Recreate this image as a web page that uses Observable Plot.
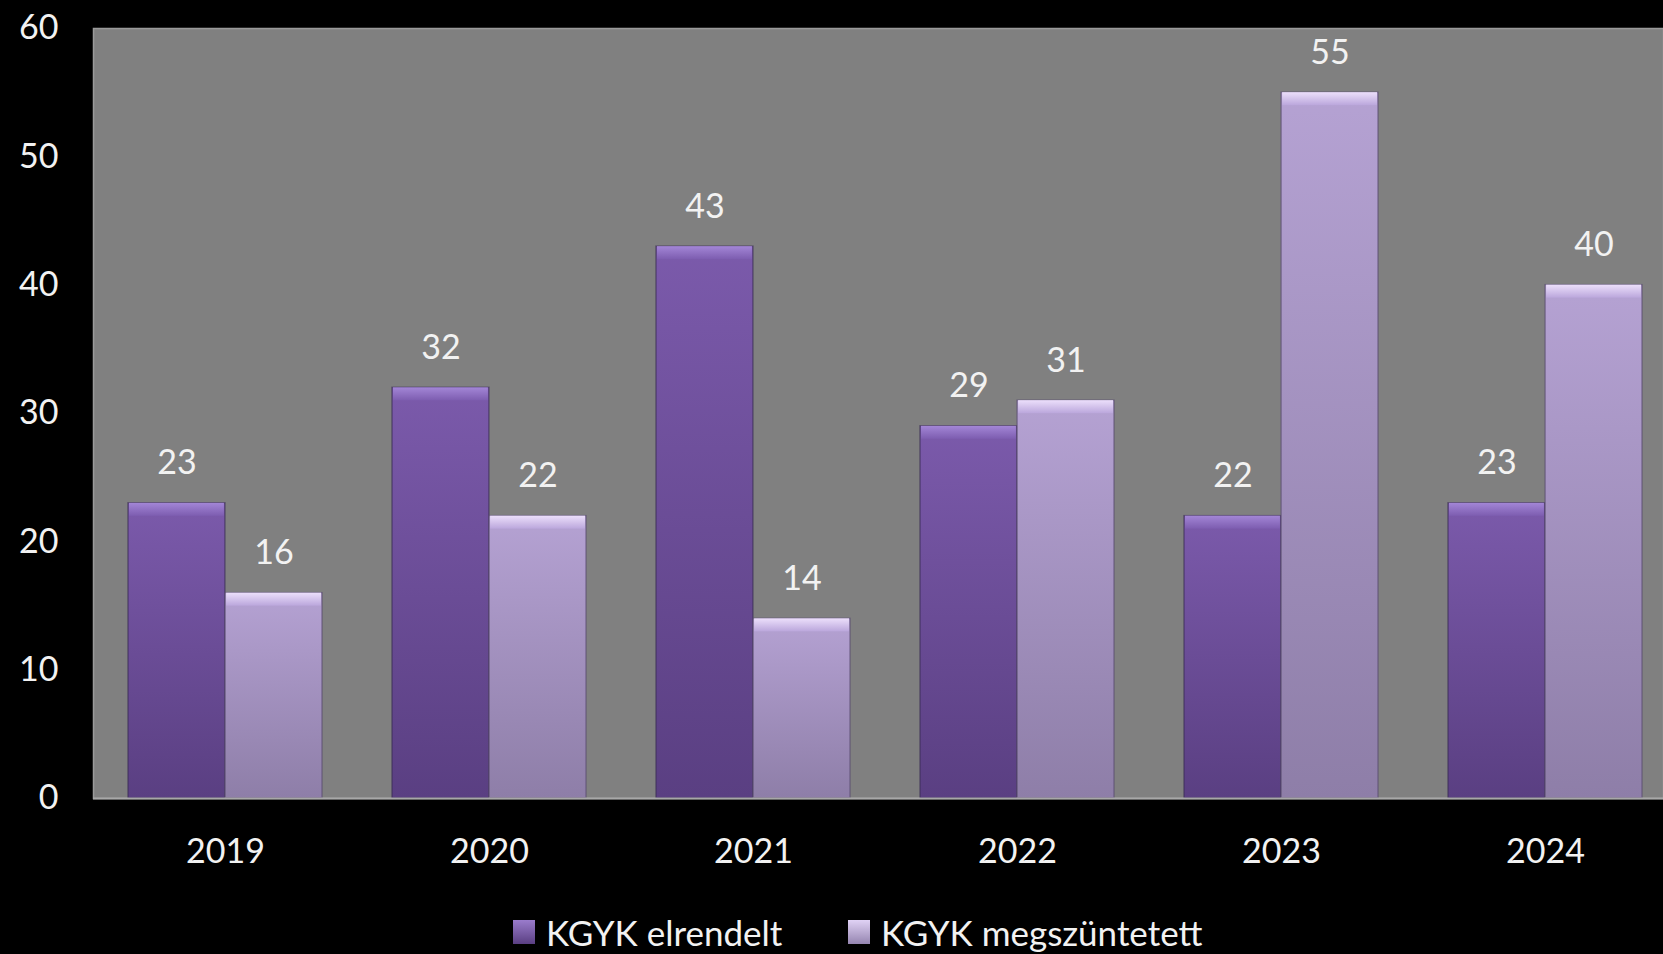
<!DOCTYPE html>
<html>
<head>
<meta charset="utf-8">
<script src="https://cdn.jsdelivr.net/npm/d3@7"></script>
<script src="https://cdn.jsdelivr.net/npm/@observablehq/plot@0.6"></script>
<style>
  html, body { margin: 0; padding: 0; background: #000; overflow: hidden; }
  #chart svg { display: block; }
  #legend { position: relative; height: 64px; font-family: Lato, "Open Sans", sans-serif; color: #f2f2f2; font-size: 35px; }
  .item { position: absolute; top: 21px; display: flex; align-items: center; white-space: nowrap; }
  .sw { width: 22px; height: 24px; margin-right: 11px; }
</style>
</head>
<body>
<div id="chart"></div>
<div id="legend"></div>
<script>
const years = ["2019", "2020", "2021", "2022", "2023", "2024"];
const seriesNames = ["KGYK elrendelt", "KGYK megszüntetett"];
const elrendelt = [23, 32, 43, 29, 22, 23];
const megszuntetett = [16, 22, 14, 31, 55, 40];
const yTicks = [0, 10, 20, 30, 40, 50, 60];

const dataA = years.map((y, i) => ({year: y, series: seriesNames[0], value: elrendelt[i]}));
const dataB = years.map((y, i) => ({year: y, series: seriesNames[1], value: megszuntetett[i]}));

const W = 1663, H = 890;
const x0 = 93, x1 = 1678;
const padIn = 0.265, padOut = 0.1325;
const step = (x1 - x0) / (years.length - padIn + 2 * padOut);
const bw = step * (1 - padIn);
const half = bw / 2;
const fontSize = 34;
const txt = "#f2f2f2";

const svg = Plot.plot({
  width: W,
  height: H,
  marginLeft: 93,
  marginRight: 0,
  marginTop: 28,
  marginBottom: 92,
  style: {background: "#000", color: txt, fontFamily: "Lato, 'Open Sans', sans-serif", fontSize: fontSize + "px"},
  x: {domain: years, range: [x0, x1], paddingInner: padIn, paddingOuter: padOut, axis: null},
  y: {domain: [0, 60], axis: null},
  marks: [
    Plot.frame({fill: "#808080", stroke: "#9a9a9a", strokeWidth: 1.5}),
    // series A
    Plot.barY(dataA, {x: "year", y: "value", insetRight: half, fill: "url(#gDark)", stroke: "#3b2d55", strokeOpacity: 0.6, strokeWidth: 1.5}),
    Plot.barY(dataA, {x: "year", y1: "value", y2: "value", insetRight: half + 1, insetLeft: 1, insetBottom: -13, fill: "url(#gDarkTop)"}),
    // series B
    Plot.barY(dataB, {x: "year", y: "value", insetLeft: half, fill: "url(#gLight)", stroke: "#5a4c70", strokeOpacity: 0.6, strokeWidth: 1.5}),
    Plot.barY(dataB, {x: "year", y1: "value", y2: "value", insetLeft: half + 1, insetRight: 1, insetBottom: -13, fill: "url(#gLightTop)"}),
    Plot.ruleY([0], {stroke: "#a8a8a8", strokeWidth: 2}),
    Plot.text(dataA, {x: "year", y: "value", text: d => String(d.value), dx: -half / 2, dy: -40, fill: txt, fontSize}),
    Plot.text(dataB, {x: "year", y: "value", text: d => String(d.value), dx: half / 2, dy: -40, fill: txt, fontSize}),
    Plot.axisY(yTicks, {anchor: "left", tickSize: 0, tickPadding: 35, fontSize, label: null, color: txt}),
    Plot.axisX(years, {anchor: "bottom", tickSize: 0, tickPadding: 40, fontSize, label: null, color: txt})
  ]
});

const defs = d3.select(svg).insert("defs", ":first-child");
function grad(id, stops) {
  const g = defs.append("linearGradient").attr("id", id).attr("x1", 0).attr("y1", 0).attr("x2", 0).attr("y2", 1);
  stops.forEach(([o, c]) => g.append("stop").attr("offset", o).attr("stop-color", c));
}
grad("gDark", [[0, "#7b5aab"], [1, "#5a3f82"]]);
grad("gLight", [[0, "#b5a2d3"], [1, "#8e7ea8"]]);
grad("gDarkTop", [[0, "#a386d6"], [1, "#7d5db0"]]);
grad("gLightTop", [[0, "#ecdffb"], [1, "#bba7dc"]]);

document.getElementById("chart").appendChild(svg);

// legend below the chart
const legend = document.getElementById("legend");
const swatchColors = [["#9a7ccc", "#5a3f82"], ["#e0d2f5", "#9585b0"]];
const lefts = [513, 848];
seriesNames.forEach((name, i) => {
  const it = document.createElement("div");
  it.className = "item";
  it.style.left = lefts[i] + "px";
  const sw = document.createElement("div");
  sw.className = "sw";
  sw.style.background = `linear-gradient(${swatchColors[i][0]}, ${swatchColors[i][1]})`;
  const t = document.createElement("span");
  t.textContent = name;
  it.appendChild(sw);
  it.appendChild(t);
  legend.appendChild(it);
});
</script>
</body>
</html>
